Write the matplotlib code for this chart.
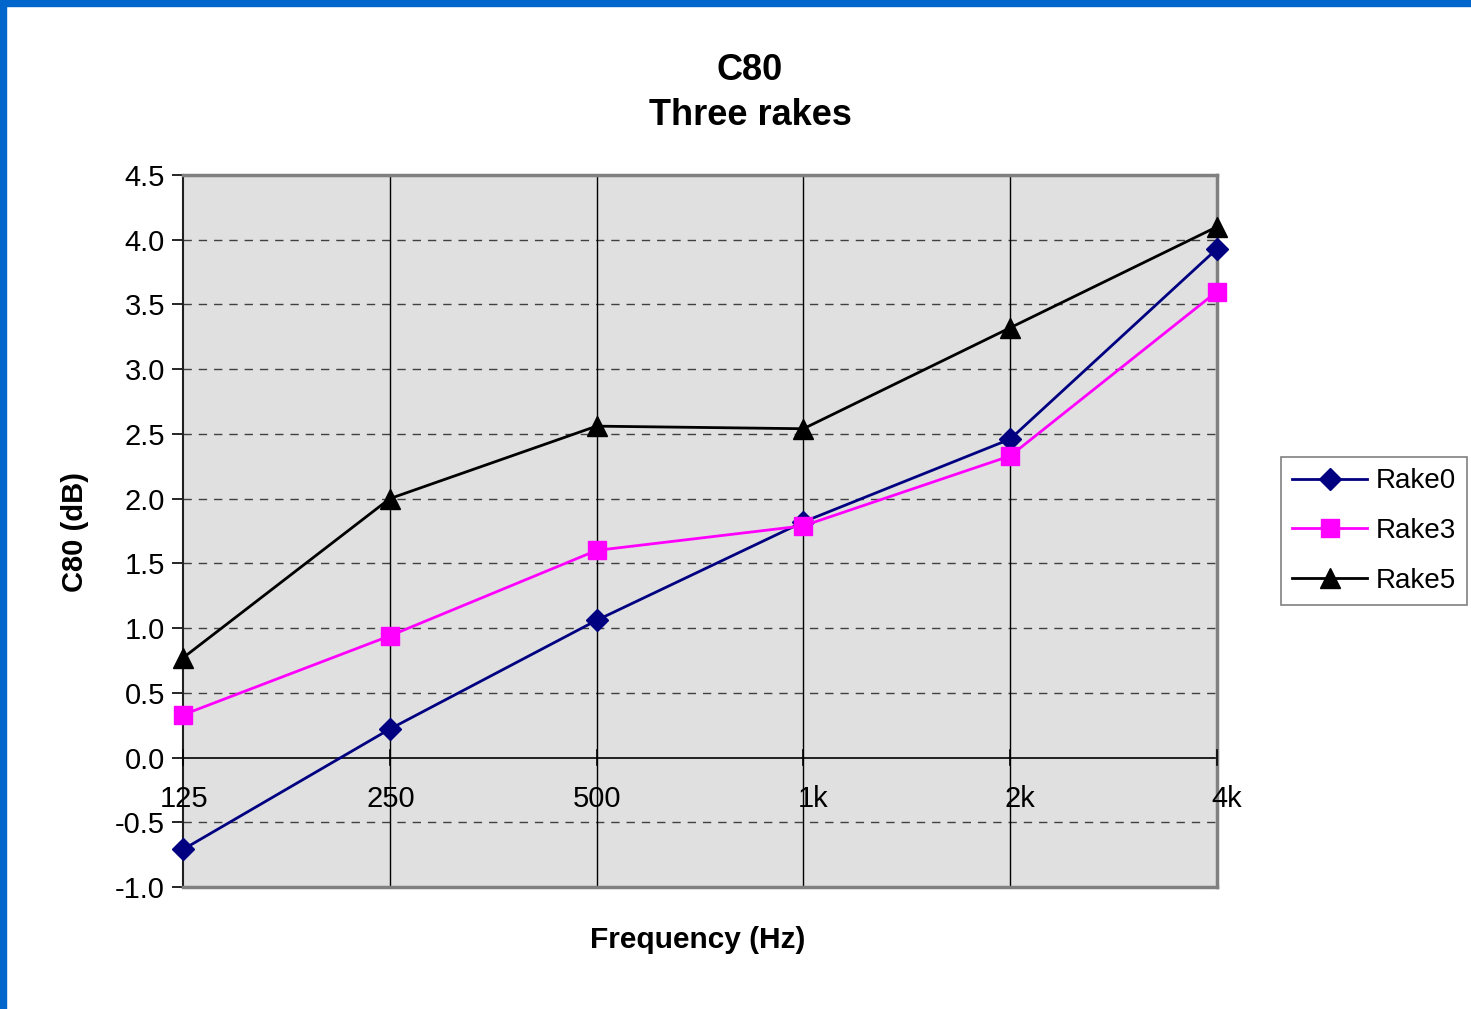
import matplotlib
matplotlib.use('Agg')
import matplotlib.pyplot as plt
import matplotlib.patches as patches
import matplotlib.transforms as mtransforms

plt.rcParams['font.family'] = ['Liberation Sans', 'DejaVu Sans']

freqs = ['125', '250', '500', '1k', '2k', '4k']
rake0 = [-0.71, 0.22, 1.06, 1.82, 2.46, 3.93]
rake3 = [0.33, 0.94, 1.60, 1.79, 2.33, 3.60]
rake5 = [0.77, 2.00, 2.56, 2.54, 3.32, 4.10]
yticks = [-1.0, -0.5, 0.0, 0.5, 1.0, 1.5, 2.0, 2.5, 3.0, 3.5, 4.0, 4.5]

W, H = 1471, 1009
fig = plt.figure(figsize=(W / 100, H / 100), dpi=100)

# blue window frame on the left and top edges
fig.patches.append(patches.Rectangle((0, 0), 6 / W, 1, transform=fig.transFigure,
                                     color='#0066CC', zorder=0))
fig.patches.append(patches.Rectangle((0, 1 - 6 / H), 1, 6 / H, transform=fig.transFigure,
                                     color='#0066CC', zorder=0))

ax = fig.add_axes([183 / W, 1 - 887 / H, (1217 - 183) / W, (887 - 175) / H])
ax.set_facecolor('#E0E0E0')

x = list(range(len(freqs)))
ax.set_xlim(0, len(freqs) - 1)
ax.set_ylim(-1.0, 4.5)

# horizontal dashed grid
for yv in yticks[1:]:
    if yv == 0:
        continue
    ax.axhline(yv, color='#404040', lw=1, ls=(0, (6, 5)), zorder=1)
# vertical solid grid at categories
for xv in x[1:-1]:
    ax.axvline(xv, color='black', lw=1, zorder=1)
ax.axhline(0, color='black', lw=1.2, zorder=2)

ax.plot(x, rake0, color='#000080', lw=2, marker='D', ms=11, label='Rake0', zorder=4,
        clip_on=False)
ax.plot(x, rake3, color='#FF00FF', lw=2, marker='s', ms=13, label='Rake3', zorder=4,
        clip_on=False)
ax.plot(x, rake5, color='black', lw=2, marker='^', ms=14, label='Rake5', zorder=5,
        clip_on=False)

for side in ['top', 'right', 'bottom']:
    ax.spines[side].set_color('#808080')
    ax.spines[side].set_linewidth(2.5)
ax.spines['left'].set_color('#202020')
ax.spines['left'].set_linewidth(1.5)

ax.set_yticks(yticks)
ax.set_yticklabels([f'{v:.1f}' for v in yticks], fontsize=21)
ax.tick_params(axis='y', direction='out', length=8, width=1.2, pad=5)

# category axis sits on y=0 with crossing ticks
ax.set_xticks([])
for xv in x:
    ax.plot([xv, xv], [-0.06, 0.06], color='black', lw=1.2, zorder=3, clip_on=False)
offset = mtransforms.ScaledTranslation(25 / 100, 0, fig.dpi_scale_trans)
for xv, lab in zip(x, freqs):
    ax.text(xv, -0.32, lab, ha='right', va='center', fontsize=21,
            transform=ax.transData + offset, zorder=6)

fig.text(75 / W, 1 - 532 / H, 'C80 (dB)', ha='center', va='center', rotation=90,
         fontsize=21, fontweight='bold')
fig.text(698 / W, 1 - 940 / H, 'Frequency (Hz)', ha='center', va='center',
         fontsize=21.5, fontweight='bold')
fig.text(750 / W, 1 - 70 / H, 'C80', ha='center', va='center', fontsize=26, fontweight='bold')
fig.text(750 / W, 1 - 115 / H, 'Three rakes', ha='center', va='center', fontsize=26,
         fontweight='bold')

leg = fig.legend(loc='center', bbox_to_anchor=(1374 / W, 1 - 531 / H), fontsize=20,
                 frameon=True, fancybox=False, edgecolor='#606060', handlelength=2.7,
                 handletextpad=0.3, labelspacing=0.85, borderpad=0.4, borderaxespad=0)
leg.get_frame().set_linewidth(1.2)

fig.savefig('out.png', dpi=100, facecolor='white')
